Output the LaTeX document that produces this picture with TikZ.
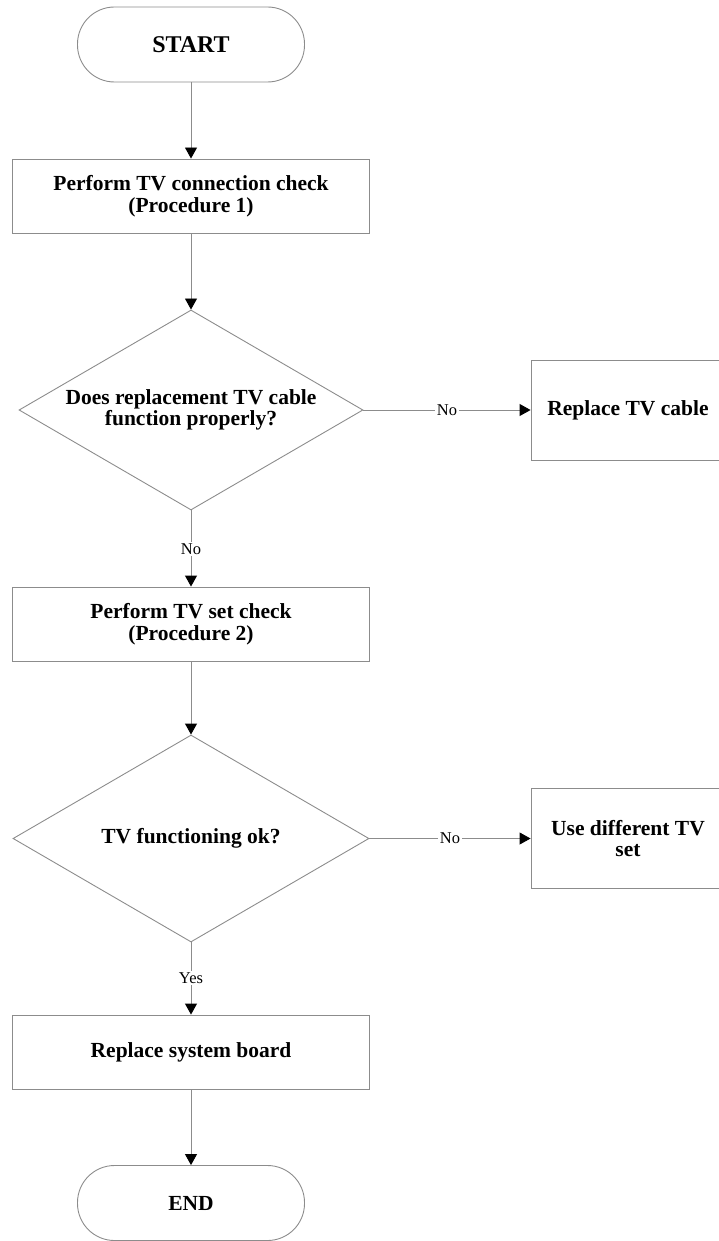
\documentclass[tikz,border=0pt]{standalone}
\usepackage{fontspec}
\setmainfont{Liberation Serif}
\usetikzlibrary{shapes.geometric,arrows.meta}
\definecolor{linegray}{gray}{0.55}
\begin{document}
\begin{tikzpicture}[x=1pt,y=-1pt,
  every node/.style={font=\bfseries\fontsize{21.5}{21.5}\selectfont, align=center, inner sep=0pt},
  outline/.style={draw=linegray, line width=0.9pt},
  terminal/.style={outline, rounded corners=37pt, minimum width=227pt, minimum height=75pt},
  process/.style={outline, minimum width=357pt, minimum height=74pt},
  decision/.style={outline, diamond, aspect=1.72, minimum width=344pt, minimum height=200pt},
  flow/.style={draw=linegray, line width=0.9pt, -{Triangle[length=11pt,width=12pt,color=black]}},
  tag/.style={font=\fontsize{16.5}{16.5}\selectfont, fill=white, inner sep=1.5pt}]
\useasboundingbox (0,0) rectangle (719,1241);
\clip (0,0) rectangle (719,1241);

% main column
\node[terminal, font=\bfseries\fontsize{24}{24}\selectfont] (start) at (191,44.5) {START};
\node[process] (p1) at (191,196) {Perform TV connection check\\(Procedure 1)};
\node[decision] (d1) at (191,410) {Does replacement TV cable\\function properly?};
\node[process] (p2) at (191,624) {Perform TV set check\\(Procedure 2)};
\node[decision, minimum width=356pt, minimum height=207pt] (d2) at (191,838.5) {TV functioning ok?};
\node[process] (board) at (191,1052) {Replace system board};
\node[terminal] (end) at (191,1203) {END};

% side actions
\node[process, minimum width=194pt, minimum height=100pt] (cable) at (628,410) {Replace TV cable};
\node[process, minimum width=194pt, minimum height=100pt] (tvset) at (628,838.5) {Use different TV\\set};

% connectors
\draw[flow] (start) -- (p1);
\draw[flow] (p1) -- (d1);
\draw[flow] (d1.south) -- node[tag, pos=0.51] {No} (p2.north);
\draw[flow] (d1.east) -- node[tag, pos=0.5] {No} (d1.east -| cable.west);
\draw[flow] (p2) -- (d2);
\draw[flow] (d2.east) -- node[tag, pos=0.5] {No} (d2.east -| tvset.west);
\draw[flow] (d2.south) -- node[tag, pos=0.49] {Yes} (board.north);
\draw[flow] (board) -- (end);
\end{tikzpicture}
\end{document}
